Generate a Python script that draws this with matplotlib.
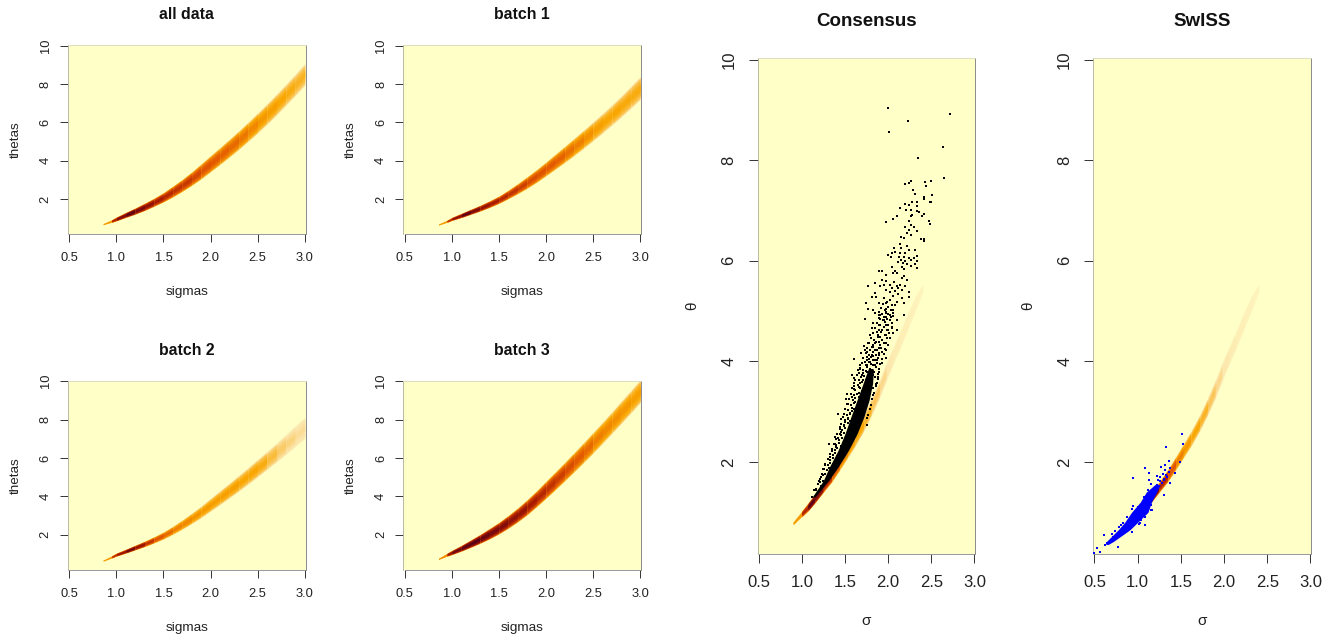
import numpy as np
import matplotlib
matplotlib.use("Agg")
from matplotlib import pyplot as plt
from matplotlib.colors import LinearSegmentedColormap

plt.rcParams['font.family'] = ['Liberation Sans', 'DejaVu Sans']

W, H = 1333, 637

# ridge of the small panels, read every 0.1 on sigma
sigma_small = [0.86, 0.95, 1.0, 1.1, 1.2, 1.3, 1.4, 1.5, 1.6, 1.7, 1.8, 1.9, 2.0, 2.1, 2.2, 2.3, 2.4, 2.5, 2.6, 2.7, 2.8, 2.9, 3.0]
theta_all = [0.70, 0.86, 0.97, 1.18, 1.38, 1.60, 1.84, 2.10, 2.40, 2.72, 3.07, 3.45, 3.85, 4.25, 4.66, 5.08, 5.52, 5.97, 6.44, 6.93, 7.44, 7.96, 8.50]
theta_b1 = [0.68, 0.85, 0.97, 1.15, 1.34, 1.53, 1.74, 1.97, 2.25, 2.55, 2.87, 3.21, 3.58, 3.96, 4.34, 4.73, 5.13, 5.54, 5.96, 6.39, 6.84, 7.31, 7.79]
theta_b2 = [0.66, 0.85, 0.97, 1.15, 1.34, 1.53, 1.74, 1.97, 2.24, 2.54, 2.86, 3.20, 3.57, 3.94, 4.31, 4.69, 5.08, 5.48, 5.88, 6.29, 6.71, 7.14, 7.57]
theta_b3 = [0.75, 0.97, 1.08, 1.30, 1.54, 1.79, 2.06, 2.35, 2.68, 3.04, 3.44, 3.88, 4.35, 4.82, 5.30, 5.79, 6.29, 6.80, 7.32, 7.85, 8.39, 8.93, 9.48]
width_all = [0.03, 0.07, 0.10, 0.13, 0.16, 0.19, 0.21, 0.24, 0.28, 0.31, 0.35, 0.39, 0.42, 0.44, 0.46, 0.48, 0.50, 0.52, 0.53, 0.54, 0.55, 0.56, 0.57]
width_b1 = [0.03, 0.06, 0.08, 0.11, 0.13, 0.15, 0.17, 0.19, 0.22, 0.26, 0.30, 0.33, 0.36, 0.39, 0.42, 0.45, 0.47, 0.49, 0.51, 0.53, 0.55, 0.58, 0.60]
width_b2 = [0.03, 0.06, 0.08, 0.10, 0.12, 0.14, 0.16, 0.18, 0.21, 0.24, 0.27, 0.30, 0.33, 0.36, 0.38, 0.41, 0.43, 0.45, 0.47, 0.49, 0.52, 0.54, 0.56]
width_b3 = [0.03, 0.08, 0.11, 0.15, 0.19, 0.23, 0.27, 0.30, 0.33, 0.36, 0.39, 0.41, 0.44, 0.46, 0.48, 0.50, 0.52, 0.54, 0.55, 0.56, 0.58, 0.59, 0.60]
level_all = [0.45, 0.80, 0.92, 1.00, 0.92, 0.86, 0.80, 0.75, 0.72, 0.70, 0.66, 0.62, 0.60, 0.58, 0.56, 0.52, 0.48, 0.44, 0.42, 0.40, 0.38, 0.36, 0.32]
level_b1 = [0.45, 0.75, 0.88, 1.00, 0.92, 0.85, 0.80, 0.76, 0.72, 0.68, 0.64, 0.62, 0.60, 0.58, 0.54, 0.50, 0.46, 0.42, 0.40, 0.40, 0.39, 0.38, 0.36]
level_b2 = [0.45, 0.75, 0.85, 0.95, 0.85, 0.72, 0.62, 0.56, 0.50, 0.48, 0.45, 0.43, 0.42, 0.42, 0.42, 0.40, 0.40, 0.38, 0.33, 0.28, 0.25, 0.22, 0.20]
level_b3 = [0.50, 0.85, 0.95, 1.00, 1.00, 0.96, 0.92, 0.90, 0.86, 0.84, 0.80, 0.76, 0.72, 0.68, 0.64, 0.60, 0.56, 0.50, 0.48, 0.46, 0.44, 0.42, 0.42]

# ridge shared by the two tall panels
sigma_tall = [0.90, 1.00, 1.07, 1.15, 1.25, 1.35, 1.44, 1.53, 1.62, 1.72, 1.81, 1.90, 1.98, 2.06, 2.14, 2.24, 2.33, 2.40]
theta_tall = [0.78, 0.97, 1.10, 1.27, 1.50, 1.73, 1.97, 2.22, 2.47, 2.78, 3.10, 3.45, 3.80, 4.12, 4.43, 4.85, 5.20, 5.45]
width_tall = [0.03, 0.06, 0.08, 0.09, 0.10, 0.12, 0.13, 0.14, 0.15, 0.16, 0.17, 0.18, 0.18, 0.18, 0.18, 0.17, 0.15, 0.08]
level_tall = [0.45, 0.78, 1.00, 0.92, 0.78, 0.62, 0.50, 0.44, 0.40, 0.36, 0.30, 0.24, 0.17, 0.14, 0.12, 0.10, 0.08, 0.05]

# Consensus: solid part of the cloud, then the dots that stand apart
body_theta = [1.30, 1.63, 1.90, 2.23, 2.56, 2.90, 3.23, 3.56, 3.85]
body_left = [1.12, 1.25, 1.32, 1.42, 1.50, 1.57, 1.64, 1.71, 1.77]
body_right = [1.15, 1.31, 1.42, 1.54, 1.64, 1.72, 1.78, 1.82, 1.83]
cons_sigma = [2.00, 2.23, 2.01, 2.72, 2.64, 2.35, 2.65, 2.50, 2.43, 2.44, 2.26, 2.24, 2.20, 2.29, 2.31, 2.51, 2.42, 2.42, 2.48, 2.50, 2.28, 2.34, 2.19, 2.24, 2.33, 2.14, 2.21, 2.26, 2.33, 2.36, 2.42, 2.39, 2.10, 2.06, 1.97, 2.47, 2.49, 2.26, 2.28, 2.24, 2.26, 2.20, 2.30, 2.24, 2.33, 2.22, 2.26, 2.15, 2.18, 2.38, 2.42, 2.41,
              2.14, 2.22, 2.07, 2.15, 2.24, 2.31, 2.04, 2.08, 2.00, 2.14, 2.20, 2.33, 2.03, 2.13, 2.18, 2.24, 2.30, 2.15, 2.20, 2.26, 2.33, 2.12, 2.17, 2.22, 2.31, 2.16, 2.26, 2.33, 2.04, 2.18, 2.08, 1.90, 1.93, 2.06, 2.10, 1.98, 2.18, 2.16, 2.22, 1.93, 1.97, 2.07, 1.77, 1.85, 1.91, 1.95, 2.02, 2.10, 2.14, 2.20, 2.04, 2.12, 2.16, 1.98, 2.08, 2.24, 2.02, 1.85, 2.12, 1.81, 1.86, 2.06, 1.95, 2.16, 2.24, 2.02, 2.10, 1.74, 1.97, 2.04, 2.18, 1.77, 1.83, 1.98, 2.06, 1.89, 1.93, 2.00, 2.18, 1.73, 1.95, 2.03, 1.91, 1.99, 2.06,
              1.83, 1.81, 1.91, 1.98, 2.06, 1.95, 2.02, 2.10, 1.89, 1.97, 2.04, 2.10, 1.93, 2.00, 1.87, 2.06, 1.97, 1.91, 1.79, 2.02, 1.89, 1.85, 1.77, 1.95, 2.00, 1.81, 1.89, 1.98, 1.73, 1.85, 1.93, 1.69, 1.81, 1.89, 1.75, 1.97, 1.60, 1.85, 1.73, 1.79, 1.93, 1.67, 1.85, 1.75, 1.65, 1.81, 1.89, 1.71, 1.64, 1.77, 1.85, 1.58, 1.62, 1.71, 1.81, 1.67, 1.87, 1.75, 1.60, 1.83, 1.52, 1.58, 1.64, 1.51, 1.54, 1.415, 1.48, 1.44, 1.31, 1.44, 1.38, 1.40, 1.33, 1.27, 1.23, 1.21, 1.12,
              1.78, 1.83, 1.87, 1.76, 1.80, 1.86, 1.74, 1.79, 1.84, 1.90, 1.72, 1.77, 1.82, 1.88, 1.70, 1.75, 1.80, 1.86, 1.68, 1.73, 1.78, 1.84, 1.66, 1.72, 1.62, 1.68, 1.60, 1.56, 1.53, 1.49, 1.46, 1.42, 1.38, 1.35, 1.30, 1.25, 1.20, 1.17, 1.76, 1.72, 1.68, 1.61, 1.50, 1.58]
cons_theta = [9.04, 8.77, 8.55, 8.91, 8.27, 8.04, 7.64, 7.58, 7.57, 7.48, 7.59, 7.55, 7.52, 7.40, 7.32, 7.31, 7.26, 7.22, 7.17, 7.16, 7.17, 7.17, 7.13, 7.10, 7.09, 7.04, 7.01, 7.01, 6.98, 6.96, 6.93, 6.88, 6.88, 6.83, 6.76, 6.78, 6.73, 6.88, 6.90, 6.78, 6.71, 6.68, 6.68, 6.62, 6.60, 6.55, 6.52, 6.48, 6.45, 6.44, 6.44, 6.40,
              6.33, 6.30, 6.25, 6.25, 6.22, 6.22, 6.15, 6.18, 6.12, 6.15, 6.15, 6.10, 6.07, 6.07, 6.08, 6.05, 6.05, 6.02, 6.00, 6.02, 6.00, 5.98, 5.95, 5.94, 5.94, 5.88, 5.90, 5.85, 5.87, 5.83, 5.80, 5.79, 5.79, 5.75, 5.75, 5.72, 5.70, 5.65, 5.62, 5.62, 5.60, 5.58, 5.50, 5.55, 5.49, 5.52, 5.52, 5.49, 5.52, 5.50, 5.45, 5.45, 5.42, 5.42, 5.40, 5.37, 5.37, 5.35, 5.34, 5.27, 5.27, 5.29, 5.25, 5.25, 5.27, 5.22, 5.18, 5.15, 5.15, 5.12, 5.15, 5.05, 5.02, 5.05, 5.02, 4.99, 4.95, 4.95, 4.92, 4.85, 4.88, 4.88, 4.85, 4.84, 4.90,
              4.76, 4.66, 4.92, 4.96, 4.96, 4.82, 4.82, 4.82, 4.72, 4.72, 4.69, 4.62, 4.62, 4.62, 4.59, 4.56, 4.52, 4.49, 4.52, 4.46, 4.39, 4.36, 4.36, 4.36, 4.33, 4.29, 4.26, 4.23, 4.23, 4.23, 4.19, 4.16, 4.13, 4.13, 4.09, 4.06, 4.05, 4.03, 3.99, 3.99, 3.96, 3.93, 3.93, 3.89, 3.83, 3.83, 3.79, 3.76, 3.73, 3.73, 3.69, 3.73, 3.63, 3.63, 3.63, 3.56, 3.56, 3.53, 3.50, 3.46, 3.36, 3.30, 3.36, 3.26, 3.16, 2.96, 2.90, 2.70, 2.35, 2.56, 2.50, 2.30, 2.10, 1.93, 1.77, 1.60, 1.30,
              4.05, 4.10, 4.02, 3.92, 3.95, 3.88, 3.80, 3.84, 3.78, 3.85, 3.70, 3.66, 3.72, 3.68, 3.58, 3.60, 3.52, 3.50, 3.46, 3.42, 3.40, 3.38, 3.30, 3.22, 3.20, 3.12, 3.05, 2.95, 2.85, 2.72, 2.60, 2.48, 2.36, 2.22, 2.05, 1.85, 1.62, 1.45, 4.18, 4.30, 3.85, 3.45, 2.80, 3.02]

# thicker crowd of dots around the solid part, (sigma, theta)
cons_crowd = [(1.14, 1.44), (1.17, 1.47), (1.19, 1.56), (1.22, 1.53), (1.21, 1.66), (1.25, 1.63), (1.24, 1.74), (1.27, 1.77), (1.22, 1.71),
              (1.26, 1.86), (1.29, 1.83), (1.31, 1.88), (1.27, 1.96), (1.30, 1.93), (1.33, 1.98), (1.30, 2.06), (1.33, 2.03), (1.36, 2.08), (1.39, 2.02),
              (1.33, 2.16), (1.36, 2.13), (1.38, 2.18), (1.41, 2.12), (1.35, 2.26), (1.38, 2.23), (1.41, 2.28), (1.37, 2.36), (1.40, 2.33), (1.43, 2.38), (1.46, 2.31),
              (1.40, 2.46), (1.43, 2.43), (1.47, 2.48), (1.41, 2.56), (1.45, 2.53), (1.49, 2.58), (1.44, 2.66), (1.47, 2.63), (1.50, 2.68),
              (1.46, 2.76), (1.49, 2.73), (1.53, 2.78), (1.75, 2.74), (1.45, 2.86), (1.50, 2.83), (1.53, 2.88), (1.56, 2.82), (1.76, 2.87),
              (1.49, 2.96), (1.52, 2.93), (1.56, 2.98), (1.77, 2.94), (1.50, 3.06), (1.54, 3.03), (1.58, 3.08), (1.79, 3.05), (1.52, 3.16), (1.57, 3.13), (1.60, 3.18), (1.80, 3.14),
              (1.55, 3.26), (1.59, 3.23), (1.62, 3.28), (1.81, 3.25), (1.57, 3.36), (1.61, 3.33), (1.66, 3.38), (1.82, 3.34), (1.58, 3.46), (1.62, 3.43), (1.66, 3.48), (1.70, 3.42),
              (1.60, 3.56), (1.65, 3.53), (1.70, 3.58), (1.86, 3.55), (1.61, 3.66), (1.66, 3.63), (1.69, 3.68), (1.74, 3.62), (1.88, 3.65), (1.66, 3.76), (1.70, 3.73), (1.75, 3.78), (1.88, 3.74),
              (1.67, 3.86), (1.71, 3.83), (1.75, 3.88), (1.90, 3.85), (1.70, 3.96), (1.74, 3.93), (1.78, 3.98), (1.82, 3.92), (1.87, 3.97), (1.91, 3.94),
              (1.71, 4.06), (1.76, 4.03), (1.80, 4.08), (1.83, 4.02), (1.88, 4.07), (1.93, 4.04), (1.74, 4.16), (1.78, 4.13), (1.82, 4.18), (1.86, 4.12), (1.90, 4.17), (1.95, 4.14),
              (1.75, 4.26), (1.79, 4.23), (1.83, 4.28), (1.87, 4.22), (1.92, 4.27), (1.96, 4.24), (1.78, 4.36), (1.82, 4.33), (1.86, 4.38), (1.91, 4.32), (1.97, 4.37),
              (1.80, 4.46), (1.84, 4.43), (1.88, 4.48), (1.93, 4.42), (1.99, 4.47), (1.83, 4.56), (1.88, 4.53), (1.92, 4.58), (1.96, 4.52), (2.01, 4.57),
              (1.85, 4.66), (1.90, 4.63), (1.95, 4.68), (1.99, 4.62), (2.04, 4.67), (1.87, 4.76), (1.91, 4.73), (1.96, 4.78), (2.00, 4.72), (2.05, 4.77),
              (1.90, 4.86), (1.94, 4.83), (1.98, 4.88), (2.02, 4.82), (1.85, 4.96), (1.90, 4.93), (1.97, 4.98), (2.02, 4.92), (1.92, 5.06), (1.96, 5.03), (2.00, 5.08), (2.03, 5.02),
              (1.90, 5.16), (1.94, 5.13), (1.99, 5.18), (2.08, 5.12)]

# SwISS: solid part of the cloud and its loose dots
blue_theta = [0.36, 0.42, 0.65, 0.80, 1.00, 1.20, 1.40, 1.55]
blue_left = [0.63, 0.64, 0.775, 0.85, 0.93, 1.03, 1.10, 1.20]
blue_right = [0.66, 0.72, 0.91, 1.00, 1.12, 1.16, 1.22, 1.26]
swiss_sigma = [0.61, 0.53, 0.57, 0.50, 0.62, 0.64, 0.77, 0.93, 1.08, 1.03, 0.95, 1.08, 1.13, 1.13, 1.51, 1.33, 1.53, 1.27, 1.32, 1.36, 1.49, 1.43, 1.37, 1.30, 1.22, 1.26, 1.24, 1.32, 1.36, 1.34, 1.30, 1.38, 1.16, 1.18, 1.12, 1.07, 0.93, 0.95, 1.15, 1.16, 1.08, 1.02, 0.81, 0.79, 0.72, 0.85, 0.70, 0.74, 0.83, 0.88, 0.90, 0.98, 1.01, 1.06, 1.10, 1.14, 1.20, 1.23, 1.26, 1.28, 1.31, 1.33, 1.29, 1.25, 1.21, 1.17, 1.09, 1.04]
swiss_theta = [0.54, 0.28, 0.21, 0.18, 0.34, 0.38, 0.31, 0.61, 0.75, 0.78, 1.69, 1.87, 1.79, 1.64, 2.55, 2.30, 2.35, 1.89, 1.93, 2.02, 2.00, 1.79, 1.59, 1.34, 1.73, 1.70, 1.64, 1.83, 1.80, 1.70, 1.64, 1.87, 1.57, 1.44, 1.44, 1.30, 1.07, 1.12, 1.14, 1.04, 0.91, 0.76, 0.74, 0.71, 0.51, 0.63, 0.56, 0.62, 0.78, 0.90, 0.70, 0.82, 1.10, 1.20, 1.28, 1.38, 1.50, 1.55, 1.62, 1.58, 1.66, 1.74, 1.76, 1.52, 1.46, 1.05, 0.98, 0.84]

x_ticks = [0.5, 1.0, 1.5, 2.0, 2.5, 3.0]
x_labels = ['0.5', '1.0', '1.5', '2.0', '2.5', '3.0']
y_ticks = [2, 4, 6, 8, 10]

ramp = LinearSegmentedColormap.from_list(
    'ramp', ['#FFFFC8', '#FBE3A8', '#F9A600', '#E45A00', '#A81A00', '#5A0018'])

# nested layers of the band, wide and pale to narrow and full colour
layer_width = [1.0, 0.85, 0.6, 0.3]
layer_level = [0.55, 0.8, 0.92, 1.0]


def new_axes(left, right, top, bottom, size, ticklen):
    ax = plt.axes([left / W, 1 - bottom / H, (right - left) / W, (bottom - top) / H])
    ax.set_facecolor('#FFFFC8')
    ax.set_xlim(0.487, 3.01)
    ax.set_ylim(0.17, 10.03)
    ax.set_xticks(x_ticks, x_labels)
    ax.set_yticks(y_ticks, [str(v) for v in y_ticks])
    ax.tick_params(labelsize=size, length=ticklen, width=0.7, color='#333333', labelcolor='#222222')
    ax.tick_params(axis='y', labelrotation=90)
    for lab in ax.get_yticklabels():
        lab.set_va('center')
    for name, col in [('top', '#d8d8c0'), ('left', '#b0b0a0'), ('right', '#777777'), ('bottom', '#888888')]:
        ax.spines[name].set_color(col)
        ax.spines[name].set_linewidth(0.6)
    ax.spines['bottom'].set_bounds(0.5, 3.0)
    return ax


def draw_ridge(ax, sig, the, wid, lev):
    sig = np.array(sig)
    the = np.array(the)
    wid = np.array(wid)
    for i in range(len(sig) - 1):
        for w, l in zip(layer_width, layer_level):
            ax.fill_between(sig[i:i + 2], the[i:i + 2] - wid[i:i + 2] * w, the[i:i + 2] + wid[i:i + 2] * w,
                            color=ramp(lev[i] * l), lw=0, antialiased=False)


fig = plt.figure(figsize=(W / 100, H / 100), dpi=100, facecolor='white')

small_panels = [
    ('all data', 68, 305.7, 45, 234.3, theta_all, width_all, level_all),
    ('batch 1', 403.4, 641.2, 45, 234.3, theta_b1, width_b1, level_b1),
    ('batch 2', 68, 305.7, 380.6, 570, theta_b2, width_b2, level_b2),
    ('batch 3', 403.4, 641.2, 380.6, 570, theta_b3, width_b3, level_b3),
]
for name, l, r, t, b, the, wid, lev in small_panels:
    ax = new_axes(l, r, t, b, 9.3, 5.8)
    draw_ridge(ax, sigma_small, the, wid, lev)
    ax.tick_params(axis='x', pad=7)
    ax.tick_params(axis='y', pad=6)
    ax.set_title(name, fontsize=11.4, fontweight='bold', pad=18.5, color='#111111')
    ax.set_xlabel('sigmas', fontsize=9.7, labelpad=16, color='#222222')
    ax.set_ylabel('thetas', fontsize=9.7, labelpad=13, color='#222222')

tall_panels = [('Consensus', 757.5, 975.3), ('SwISS', 1093.3, 1311.3)]
for name, l, r in tall_panels:
    ax = new_axes(l, r, 58, 554, 12, 6.2)
    draw_ridge(ax, sigma_tall, theta_tall, width_tall, level_tall)
    ax.tick_params(axis='x', pad=9)
    ax.tick_params(axis='y', pad=9)
    ax.set_title(name, fontsize=13.5, fontweight='bold', pad=23, color='#111111')
    ax.set_xlabel('σ', fontsize=11, labelpad=17, color='#222222')
    ax.set_ylabel('θ', fontsize=11, labelpad=16, color='#222222')
    if name == 'Consensus':
        ax.fill_betweenx(body_theta, body_left, body_right, color='black', lw=0)
        ax.scatter(cons_sigma, cons_theta, s=1.3, c='black', marker='s', linewidths=0, zorder=3)
        ax.scatter([p[0] for p in cons_crowd], [p[1] for p in cons_crowd], s=1.3, c='black', marker='s', linewidths=0, zorder=3)
    else:
        ax.fill_betweenx(blue_theta, blue_left, blue_right, color='#0000FF', lw=0)
        ax.scatter(swiss_sigma, swiss_theta, s=1.5, c='#0000FF', marker='s', linewidths=0, zorder=3)

fig.savefig('out.png', dpi=100)
